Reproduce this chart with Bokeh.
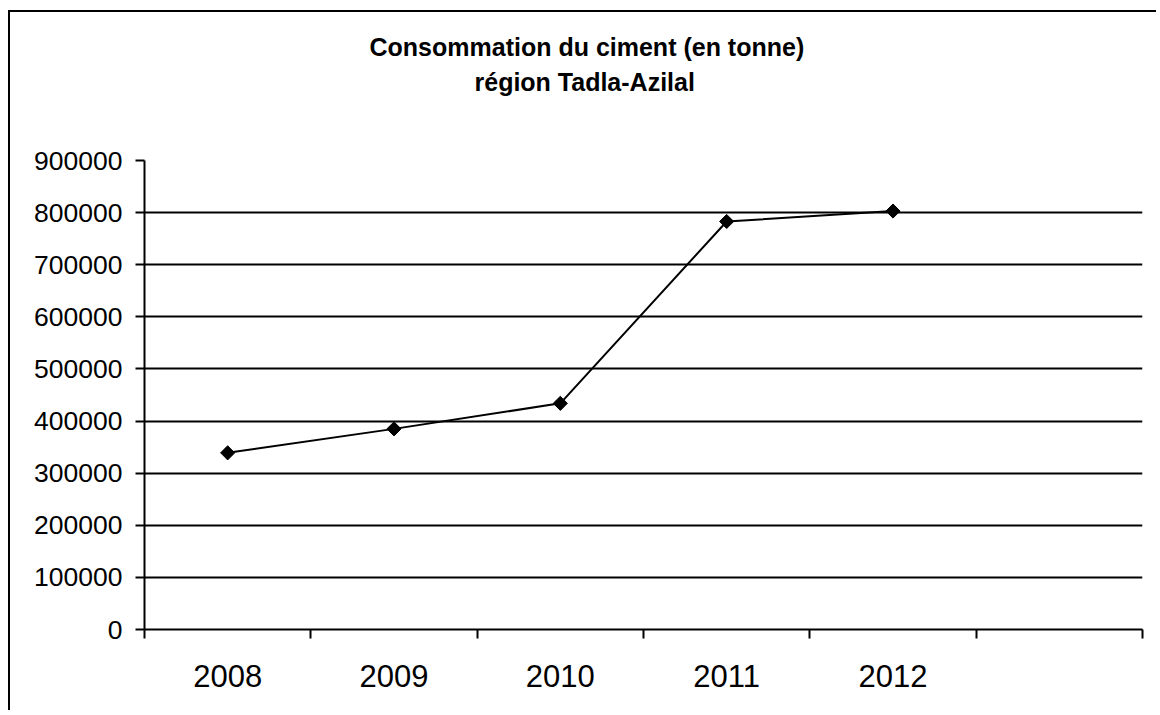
from bokeh.plotting import figure
from bokeh.models import FixedTicker, Range1d, Grid, Title, ColumnDataSource
from bokeh.embed import file_html
from bokeh.resources import INLINE
import math

# ---- data ----
years = ["2008", "2009", "2010", "2011", "2012"]
n_slots = 6  # category slots on the axis (last one is empty)
consumption = [339000, 385000, 434000, 783000, 803000]
y_ticks = [0, 100000, 200000, 300000, 400000, 500000, 600000, 700000, 800000, 900000]
title_lines = ["Consommation du ciment (en tonne)", "région Tadla-Azilal"]

FONT = "Liberation Sans"

# ---- layout (pixels) ----
W, H = 1148, 700
ML, MR, MT, MB = 134, 16, 148, H - 617

xs = [i + 0.5 for i in range(len(years))]
src = ColumnDataSource(dict(x=xs, y=consumption))

p = figure(width=W, height=H, output_backend="svg", toolbar_location=None,
           x_range=Range1d(0, n_slots), y_range=Range1d(y_ticks[0], y_ticks[-1]),
           min_border_left=ML, min_border_right=MR, min_border_top=MT, min_border_bottom=MB)
p.styles = {"border-left": "2px solid black", "border-top": "2px solid black",
            "margin-left": "8px", "margin-top": "10px"}
p.outline_line_color = None
p.background_fill_color = "white"
p.border_fill_color = "white"

# x axis: ticks between categories, labels at centres
p.xaxis.ticker = FixedTicker(ticks=xs, minor_ticks=list(range(n_slots + 1)))
p.xaxis.major_label_overrides = {x: y for x, y in zip(xs, years)}
p.xaxis.major_tick_out = 0
p.xaxis.major_tick_in = 0
p.xaxis.minor_tick_out = 9
p.xaxis.minor_tick_in = 0
p.xaxis.minor_tick_line_color = "black"
p.xaxis.minor_tick_line_width = 2
p.xaxis.axis_line_color = "black"
p.xaxis.axis_line_width = 2
p.xaxis.major_label_text_font = FONT
p.xaxis.major_label_text_font_size = "31px"
p.xaxis.major_label_text_color = "black"
p.xaxis.major_label_standoff = 26

# y axis
p.yaxis.ticker = FixedTicker(ticks=y_ticks, minor_ticks=[])
p.yaxis.major_tick_out = 9
p.yaxis.major_tick_in = 0
p.yaxis.major_tick_line_color = "black"
p.yaxis.major_tick_line_width = 2
p.yaxis.axis_line_color = "black"
p.yaxis.axis_line_width = 2
p.yaxis.major_label_text_font = FONT
p.yaxis.major_label_text_font_size = "26.5px"
p.yaxis.major_label_text_color = "black"
p.yaxis.major_label_standoff = 13
p.yaxis.formatter.use_scientific = False

# grids
p.xgrid.visible = False
p.ygrid.ticker = FixedTicker(ticks=y_ticks[1:-1])
p.ygrid.grid_line_color = "black"
p.ygrid.grid_line_width = 2
top_grid = Grid(dimension=1, ticker=FixedTicker(ticks=[y_ticks[-1]]),
                grid_line_color="#c8c8c8", grid_line_width=2)
p.add_layout(top_grid)

# series
p.line("x", "y", source=src, line_color="black", line_width=2)
p.scatter("x", "y", source=src, marker="square", angle=math.pi / 4, size=10,
          fill_color="black", line_color="black")

# title: panels stack outward from the frame (first added = closest)
title_style = dict(text_font=FONT, text_font_style="bold", text_font_size="25px",
                   text_color="black")
# spacer between frame and title block
p.add_layout(Title(text=" ", standoff=32, **title_style), "above")
# left-aligned with pixel offsets so the lines are centred on the whole chart
offsets = [225, 330]
for t, off in reversed(list(zip(title_lines, offsets))):
    p.add_layout(Title(text=t, align="left", offset=off, standoff=5, **title_style), "above")

open("out.html", "w").write(file_html(p, INLINE))
